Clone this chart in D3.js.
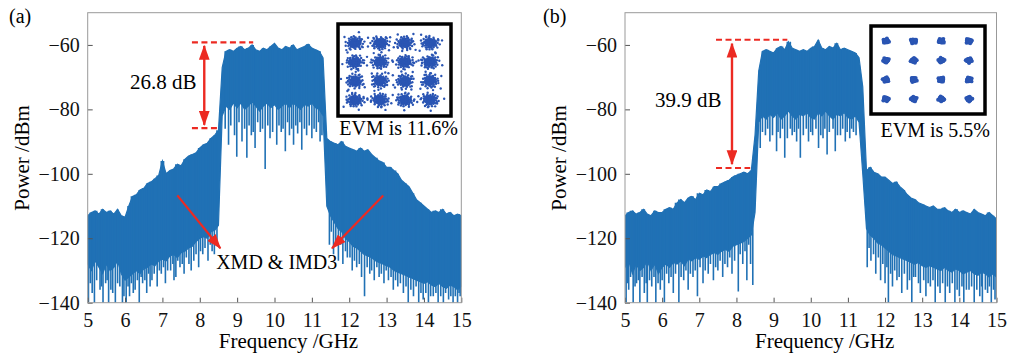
<!DOCTYPE html>
<html>
<head>
<meta charset="utf-8">
<script src="https://cdn.jsdelivr.net/npm/d3@7"></script>
<style>
  body { margin: 0; background: #fff; }
  text { font-family: "Liberation Serif", "DejaVu Serif", serif; }
</style>
</head>
<body>
<svg id="chart" width="1010" height="357"></svg>
<script>
// sampling grid of the spectra, 5 .. 15 GHz every 0.1 GHz
const freqs = d3.range(101).map(i => +(5 + i * 0.1).toFixed(1));
const xTicks = [5, 6, 7, 8, 9, 10, 11, 12, 13, 14, 15];
const yTicks = [-140, -120, -100, -80, -60];

// (a) upper / lower edge of the noisy trace (dBm)
const hiA = [
  -113, -112, -111.5, -112.5, -111, -112, -111.5, -112.5, -111, -113, -113.5,
  -110, -107, -106.5, -105, -104.5, -103, -102.5, -101.5, -100.5, -96,
  -100, -99, -98.5, -97, -97.5, -95.5, -94.5, -94, -93.5, -92,
  -91, -90.5, -89, -88, -86.5,
  -67, -62, -61.5, -62, -61, -60.5, -61.5, -61, -60, -61.5, -62, -61, -61.5, -60.5,
  -59.5, -61, -61.5, -60.5, -61, -60, -61.5, -61, -60.5, -59.8, -61, -61.5, -62, -64,
  -89, -90, -90.5, -91, -90, -91.5, -92, -92.5, -93, -92, -93, -92.5, -94, -95, -96, -96.5,
  -98, -98, -99, -100, -102, -103, -104, -106, -108, -109, -110, -111, -112, -111.5,
  -112, -111, -112.5, -112, -113, -112.5, -113
];
const loA = [
  -128, -130, -127, -129, -131, -128, -130, -129, -127, -131, -133,
  -132, -131, -130, -131, -129.5, -129, -128, -128.5, -127, -126.5,
  -127, -125.5, -125, -126, -124.5, -124, -123, -122.5, -121, -120,
  -119.5, -120, -118, -117.5, -116,
  -82, -79, -80, -78, -79.5, -78, -80, -79, -77.5, -79, -80.5, -79, -78, -79.5,
  -78.5, -80, -79, -78, -79.5, -78, -79, -80, -78.5, -79, -78, -79.5, -80, -82,
  -110, -113, -115, -117, -118, -120, -121, -122.5, -123, -124, -125, -125.5, -126, -127, -127.5, -128,
  -128.5, -129, -130, -130.5, -131, -131.5, -132, -132.5, -133, -133.5, -134, -133.5, -134.5, -135,
  -134, -135, -135.5, -134.5, -135, -136, -135
];
// dips below the trace: [GHz, dBm]
const spikesA = [
  [5.02, -140], [5.12, -137], [5.18, -140], [5.33, -136], [5.41, -140], [5.48, -134], [5.56, -140],
  [5.67, -137], [5.74, -140], [5.86, -135], [5.93, -140], [6.03, -140], [6.12, -138], [6.27, -136],
  [6.38, -140], [6.47, -134], [6.58, -137], [6.72, -133], [6.86, -135], [6.97, -131], [7.08, -134],
  [7.22, -130], [7.36, -132], [7.47, -129], [7.58, -131], [7.71, -128], [7.84, -127], [7.97, -129],
  [8.08, -125], [8.22, -127], [8.33, -124], [8.46, -121],
  [5.07, -134], [5.24, -133], [5.37, -135], [5.52, -133], [5.62, -136], [5.8, -134], [5.97, -138],
  [6.08, -135], [6.17, -134], [6.22, -137], [6.33, -133], [6.43, -132], [6.53, -133], [6.63, -131],
  [6.67, -135], [6.78, -131], [6.92, -130], [7.03, -129], [7.14, -130], [7.28, -128], [7.31, -133],
  [7.41, -127], [7.53, -128], [7.64, -126], [7.77, -130], [7.9, -125], [8.02, -124], [8.14, -123],
  [8.28, -122], [8.39, -125],
  [8.77, -91], [8.99, -94.7], [9.13, -90], [9.26, -95], [9.38, -88], [9.48, -92], [9.62, -87],
  [9.75, -98.5], [9.88, -89], [10.06, -91], [10.18, -87], [10.29, -93], [10.4, -88], [10.51, -91],
  [10.62, -87.5], [10.73, -92.5], [10.86, -88], [11.0, -89], [11.12, -87], [11.27, -88],
  [8.68, -86], [8.83, -85], [8.93, -88], [9.05, -84], [9.2, -86], [9.32, -85], [9.43, -87],
  [9.55, -84], [9.68, -86], [9.82, -85], [9.95, -87], [10.12, -85], [10.23, -86], [10.35, -84],
  [10.46, -86], [10.57, -85], [10.68, -84], [10.8, -86], [10.93, -85], [11.06, -86], [11.18, -84],
  [11.22, -90],
  [11.47, -122], [11.58, -125], [11.71, -127], [11.83, -128], [11.95, -126], [12.08, -130], [12.2, -129],
  [12.41, -138], [12.55, -131], [12.67, -133], [12.8, -132], [12.93, -134], [13.05, -133], [13.18, -136],
  [13.3, -135], [13.45, -137], [13.58, -140], [13.72, -138], [13.86, -140], [13.98, -139], [14.12, -140],
  [14.25, -138], [14.38, -140], [14.52, -140], [14.66, -139], [14.78, -140], [14.9, -140], [14.97, -138],
  [11.52, -118], [11.64, -121], [11.77, -122], [11.9, -124], [12.02, -126], [12.14, -127], [12.27, -128],
  [12.33, -132], [12.48, -129], [12.6, -130], [12.74, -129], [12.86, -131], [12.99, -130], [13.12, -132],
  [13.24, -133], [13.37, -134], [13.52, -135], [13.65, -136], [13.79, -135], [13.92, -137], [14.05, -137],
  [14.18, -138], [14.32, -137], [14.45, -138], [14.58, -137], [14.72, -138], [14.84, -138], [14.94, -137]
];

// (b)
const hiB = [
  -113, -112, -111.5, -112.5, -112, -111, -112.5, -113, -111.5, -112, -112,
  -111, -110.5, -111, -109, -108, -109, -107.5, -107, -108, -106, -106.5, -105,
  -105.5, -104, -104, -103, -102.5, -102, -101, -100.5, -100, -99.5, -100, -99,
  -88,
  -68, -62, -61.5, -62, -62.5, -61, -60.5, -61.5, -59, -61, -61.5, -62, -61.5, -62,
  -61, -60.5, -58.5, -61, -61.5, -60.5, -61, -59.5, -61.5, -61, -61.5, -62, -62.5, -64,
  -73,
  -99, -98, -99.5, -100, -101, -101, -102, -103, -102.5, -104, -105, -106.5, -107.5, -108, -109, -109.5,
  -110, -110.5, -110, -111, -111, -110.5, -111.5, -112, -111, -112, -111.5, -112, -112.5, -111,
  -112, -112.5, -113, -112, -113, -114
];
const loB = [
  -129, -127, -131, -128, -130, -129, -127, -130, -128, -131, -129,
  -128, -129, -127.5, -128, -127, -128.5, -126.5, -127, -126, -126.5, -125.5, -126,
  -125, -124.5, -125, -124, -123.5, -124, -122.5, -122, -121.5, -121, -120, -119,
  -112,
  -84, -82, -83, -81.5, -82.5, -81, -83, -82, -80.5, -82, -83, -81.5, -82, -81,
  -82.5, -83, -81, -82, -80.5, -82, -83, -81.5, -82, -81, -82.5, -83, -82, -84,
  -100,
  -117, -119, -120, -121.5, -122, -123, -124, -125, -125.5, -126, -126.5, -127, -127.5, -128, -127.5, -128.5,
  -129, -128.5, -129, -129.5, -130, -129, -130, -130.5, -129.5, -130, -131, -130.5, -130, -131,
  -131.5, -130.5, -131, -132, -131, -132
];
const spikesB = [
  [5.03, -140], [5.1, -136], [5.22, -140], [5.31, -134], [5.4, -140], [5.52, -137], [5.6, -140],
  [5.72, -135], [5.83, -140], [5.95, -136], [6.06, -140], [6.18, -134], [6.3, -137], [6.45, -140],
  [6.58, -133], [6.7, -136], [6.83, -132], [6.95, -138], [7.1, -134], [7.24, -131], [7.38, -133],
  [7.5, -130], [7.63, -132], [7.76, -129], [7.88, -131], [8.05, -136.5], [8.17, -128], [8.28, -133],
  [8.38, -128], [8.44, -134.5],
  [5.06, -134], [5.15, -132], [5.27, -135], [5.36, -133], [5.46, -132], [5.57, -134], [5.66, -133],
  [5.78, -132], [5.89, -134], [6.0, -133], [6.12, -131], [6.24, -132], [6.36, -131], [6.51, -132],
  [6.64, -130], [6.76, -131], [6.89, -130], [7.02, -129], [7.16, -130], [7.3, -128], [7.44, -129],
  [7.56, -127], [7.69, -128], [7.82, -126], [7.95, -127], [8.1, -125], [8.23, -124], [8.33, -122],
  [8.64, -92], [8.78, -88], [8.9, -90], [9.08, -93], [9.18, -89], [9.3, -95], [9.5, -88], [9.62, -90],
  [9.72, -95], [9.94, -90], [10.05, -88], [10.21, -92], [10.33, -89], [10.44, -94], [10.66, -93],
  [10.8, -88], [10.93, -90], [11.05, -89], [11.15, -87],
  [8.7, -87], [8.84, -86], [8.97, -88], [9.12, -87], [9.24, -86], [9.37, -89], [9.45, -86],
  [9.56, -87], [9.67, -86], [9.8, -88], [9.88, -86], [10.0, -87], [10.14, -86], [10.27, -88],
  [10.38, -86], [10.5, -87], [10.6, -86], [10.72, -88], [10.86, -86], [10.98, -87], [11.1, -86],
  [11.22, -88],
  [11.52, -129], [11.62, -127], [11.75, -131], [11.88, -133], [12.0, -134], [12.09, -140], [12.2, -135],
  [12.32, -133], [12.45, -137], [12.6, -136], [12.72, -140], [12.82, -132], [12.95, -137], [13.1, -138],
  [13.22, -135], [13.35, -140], [13.48, -137], [13.62, -140], [13.74, -137], [13.88, -140], [14.0, -138],
  [14.12, -140], [14.26, -136], [14.4, -140], [14.55, -138], [14.62, -140], [14.76, -137], [14.86, -140],
  [14.96, -139],
  [11.57, -123], [11.69, -125], [11.82, -126], [11.94, -128], [12.05, -129], [12.15, -131], [12.26, -130],
  [12.38, -132], [12.52, -131], [12.66, -133], [12.77, -132], [12.9, -134], [13.04, -133], [13.16, -134],
  [13.29, -133], [13.42, -135], [13.55, -134], [13.68, -135], [13.81, -134], [13.94, -136], [14.07, -135],
  [14.19, -136], [14.33, -135], [14.47, -136], [14.6, -135], [14.7, -136], [14.81, -135], [14.92, -136]
];

// 16-QAM insets
const qamLevels = [-3, -1, 1, 3];
const cloudOffsets = [
  [0.1, 0.05], [-0.4, 0.2], [0.5, -0.3], [-0.2, -0.5], [0.8, 0.1], [-0.7, -0.1], [0.3, 0.6],
  [-0.1, 0.3], [0.2, -0.1], [-0.5, 0.55], [0.6, 0.45], [-0.85, 0.35], [0.0, -0.75], [0.45, -0.65],
  [-0.35, -0.3], [0.9, -0.4], [-0.6, -0.6], [0.15, 0.85], [-0.25, 0.0], [0.35, 0.25], [-0.9, -0.45],
  [0.7, 0.7], [-0.05, -0.2], [0.55, 0.05], [-0.45, 0.8], [0.25, -0.4], [1.0, 0.3], [-0.15, 0.6],
  [0.05, -0.95], [-0.75, 0.15], [0.4, 0.4], [-0.3, -0.8], [0.65, -0.15], [-0.55, -0.25], [0.1, 0.45],
  [-0.2, -0.05], [1.3, -0.2], [-1.2, 0.9], [0.4, 1.3], [-0.8, -1.2]
];

const blue = '#2071b5';
const red = '#ec2a22';
const svg = d3.select('#chart');

const defs = svg.append('defs');
defs.append('marker')
  .attr('id', 'head')
  .attr('viewBox', '0 0 14 10')
  .attr('markerUnits', 'userSpaceOnUse')
  .attr('markerWidth', 15)
  .attr('markerHeight', 11)
  .attr('refX', 13)
  .attr('refY', 5)
  .attr('orient', 'auto-start-reverse')
  .append('path')
  .attr('d', 'M0,0 L14,5 L0,10 Z')
  .attr('fill', red);

const plotTop = 12.7, plotBottom = 302.7;

function drawPanel(p) {
  const g = svg.append('g');
  const x = d3.scaleLinear().domain([5, 15]).range([p.left, p.right]);
  const y = d3.scaleLinear().domain([-140, -50]).range([plotBottom, plotTop]);

  defs.append('clipPath').attr('id', 'clip-' + p.name)
    .append('rect')
    .attr('x', p.left).attr('y', plotTop)
    .attr('width', p.right - p.left).attr('height', plotBottom - plotTop);

  const plot = g.append('g').attr('clip-path', `url(#clip-${p.name})`);

  const area = d3.area()
    .x((d, i) => x(freqs[i]))
    .y0((d, i) => y(p.lo[i]))
    .y1(d => y(d));

  plot.append('path')
    .datum(p.hi)
    .attr('d', area)
    .attr('fill', blue)
    .attr('stroke', blue)
    .attr('stroke-width', 1.2)
    .attr('stroke-linejoin', 'miter');

  plot.selectAll('line.spike')
    .data(p.spikes)
    .enter()
    .append('line')
    .attr('class', 'spike')
    .attr('x1', d => x(d[0]))
    .attr('x2', d => x(d[0]))
    .attr('y1', d => y(d[1]))
    .attr('y2', d => y(p.hi[Math.round((d[0] - 5) * 10)]))
    .attr('stroke', blue)
    .attr('stroke-width', 1.6);

  // axes with inward ticks
  const xAxis = g.append('g')
    .attr('transform', `translate(0,${plotBottom})`)
    .call(d3.axisBottom(x).tickValues(xTicks).tickSizeInner(-5).tickSizeOuter(0).tickPadding(10));
  const yAxis = g.append('g')
    .attr('transform', `translate(${p.left},0)`)
    .call(d3.axisLeft(y).tickValues(yTicks).tickSizeInner(-5).tickSizeOuter(0).tickPadding(8));
  [xAxis, yAxis].forEach(a => {
    a.select('.domain').remove();
    a.selectAll('line').attr('stroke', '#555');
    a.selectAll('text').attr('font-size', 20).attr('fill', '#111')
      .attr('font-family', '"Liberation Serif", serif');
  });

  g.append('rect')
    .attr('x', p.left).attr('y', plotTop)
    .attr('width', p.right - p.left).attr('height', plotBottom - plotTop)
    .attr('fill', 'none')
    .attr('stroke', '#999')
    .attr('stroke-width', 1);

  // titles
  g.append('text')
    .attr('x', (p.left + p.right) / 2 + 14).attr('y', 348)
    .attr('text-anchor', 'middle').attr('font-size', 21)
    .text('Frequency /GHz');
  g.append('text')
    .attr('transform', `translate(${p.yTitleX},158) rotate(-90)`)
    .attr('text-anchor', 'middle').attr('font-size', 21)
    .text('Power /dBm');
  g.append('text')
    .attr('x', p.tagX).attr('y', 23)
    .attr('font-size', 20)
    .text(p.tag);

  // level difference annotation
  const ann = p.ann;
  g.append('line')
    .attr('x1', x(ann.topX[0])).attr('x2', x(ann.topX[1]))
    .attr('y1', y(ann.topY)).attr('y2', y(ann.topY))
    .attr('stroke', red).attr('stroke-width', 2.2).attr('stroke-dasharray', '6,3.5');
  g.append('line')
    .attr('x1', x(ann.lowX[0])).attr('x2', x(ann.lowX[1]))
    .attr('y1', y(ann.lowY)).attr('y2', y(ann.lowY))
    .attr('stroke', red).attr('stroke-width', 2.2).attr('stroke-dasharray', '6,3.5');
  g.append('line')
    .attr('x1', x(ann.arrowX)).attr('x2', x(ann.arrowX))
    .attr('y1', y(ann.arrowY[0])).attr('y2', y(ann.arrowY[1]))
    .attr('stroke', red).attr('stroke-width', 2.4)
    .attr('marker-start', 'url(#head)').attr('marker-end', 'url(#head)');
  g.append('text')
    .attr('x', x(ann.textX)).attr('y', y(ann.textY))
    .attr('text-anchor', 'middle').attr('font-size', 21)
    .text(ann.label);

  if (p.xmd) {
    p.xmd.arrows.forEach(a => {
      g.append('line')
        .attr('x1', x(a[0][0])).attr('y1', y(a[0][1]))
        .attr('x2', x(a[1][0])).attr('y2', y(a[1][1]))
        .attr('stroke', red).attr('stroke-width', 2.2)
        .attr('marker-end', 'url(#head)');
    });
    g.append('text')
      .attr('x', x(p.xmd.textX)).attr('y', y(p.xmd.textY))
      .attr('text-anchor', 'middle').attr('font-size', 20)
      .text('XMD & IMD3');
  }

  // constellation inset
  const b = p.box;
  g.append('rect')
    .attr('x', b[0]).attr('y', b[1])
    .attr('width', b[2] - b[0]).attr('height', b[3] - b[1])
    .attr('fill', '#fff').attr('stroke', '#000').attr('stroke-width', 3.5);
  const ix = d3.scaleLinear().domain([-3, 3]).range(p.qamX);
  const iq = d3.scaleLinear().domain([-3, 3]).range(p.qamY);
  const pts = [];
  qamLevels.forEach((I, a) => qamLevels.forEach((Q, c) => {
    p.rings.forEach((k, r) => {
      const ang = (a * 4 + c) * 0.83 + r * 1.9;
      const cs = Math.cos(ang), sn = Math.sin(ang);
      cloudOffsets.forEach(o => {
        const u = (o[0] * cs - o[1] * sn) * k, v = (o[0] * sn + o[1] * cs) * k;
        pts.push([ix(I) + u * p.spread[0], iq(Q) + v * p.spread[1]]);
      });
    });
  }));
  g.append('g').selectAll('circle')
    .data(pts)
    .enter()
    .append('circle')
    .attr('cx', d => d[0]).attr('cy', d => d[1])
    .attr('r', p.dot)
    .attr('fill', '#2a55b3');
  g.append('text')
    .attr('x', p.evmX).attr('y', p.evmY)
    .attr('text-anchor', 'end').attr('font-size', 20)
    .text(p.evm);
}

drawPanel({
  name: 'a', tag: '(a)', tagX: 9, left: 87.7, right: 461.3, yTitleX: 29,
  hi: hiA, lo: loA, spikes: spikesA,
  ann: { topY: -59.2, topX: [7.79, 9.43], lowY: -85.8, lowX: [7.79, 8.46],
         arrowX: 8.12, arrowY: [-60.3, -84.8], textX: 7.02, textY: -73.7, label: '26.8 dB' },
  xmd: { arrows: [[[7.4, -106.7], [8.55, -123.1]], [[12.91, -106.7], [11.54, -123.1]]],
         textX: 10.06, textY: -129.6 },
  box: [338, 24, 451, 116], qamX: [355, 430], qamY: [100, 43],
  spread: [9.5, 7.5], rings: [1, 0.65, 0.35], dot: 1.2,
  evm: 'EVM is 11.6%', evmX: 458, evmY: 135
});

drawPanel({
  name: 'b', tag: '(b)', tagX: 543, left: 625, right: 996.5, yTitleX: 566,
  hi: hiB, lo: loB, spikes: spikesB,
  ann: { topY: -58.4, topX: [7.45, 9.37], lowY: -98.2, lowX: [7.45, 8.37],
         arrowX: 7.88, arrowY: [-59.6, -97.0], textX: 6.7, textY: -79.4, label: '39.9 dB' },
  box: [871, 26, 985, 114], qamX: [886, 969], qamY: [99, 41],
  spread: [2.3, 1.8], rings: [1, 0.5], dot: 1.9,
  evm: 'EVM is 5.5%', evmX: 990, evmY: 137
});
</script>
</body>
</html>
